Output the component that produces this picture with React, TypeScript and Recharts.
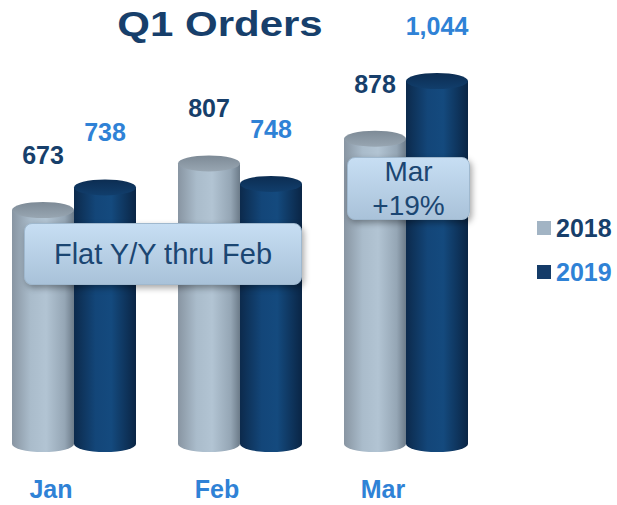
import React from 'react'
import { BarChart, Bar, XAxis, YAxis, LabelList } from 'recharts'

const months = ['Jan', 'Feb', 'Mar']
const orders2018 = [673, 807, 878]
const orders2019 = [738, 748, 1044]
const seriesNames = ['2018', '2019']
const notes = [
  { lines: ['Flat Y/Y thru Feb'], left: 24, top: 223, width: 278, height: 62 },
  { lines: ['Mar', '+19%'], left: 347, top: 157, width: 123, height: 63 }
]

const data = months.map((m, i) => ({ month: m, y2018: orders2018[i], y2019: orders2019[i] }))

const FONT = 'Arial, "Liberation Sans", sans-serif'
const NAVY = '#173f6b'
const BRIGHT = '#2f82d6'

function Cylinder(props: any) {
  const { x, y, width, height, gradId, topFill } = props
  if (height == null || height <= 0) return null
  const rx = width / 2
  const ry = 8
  const cx = x + rx
  return (
    <g>
      <ellipse cx={cx} cy={y + height} rx={rx} ry={ry} fill={`url(#${gradId})`} />
      <rect x={x} y={y} width={width} height={height} fill={`url(#${gradId})`} />
      <ellipse cx={cx} cy={y} rx={rx} ry={ry} fill={topFill} />
    </g>
  )
}

function valueLabel(color: string) {
  return (props: any) => {
    const { x, y, width, value } = props
    return (
      <text
        x={x + width / 2}
        y={y - 46}
        textAnchor="middle"
        fill={color}
        fontFamily={FONT}
        fontWeight="bold"
        fontSize={25}
      >
        {Number(value).toLocaleString('en-US')}
      </text>
    )
  }
}

function MonthTick(props: any) {
  const { x, y, payload } = props
  return (
    <text x={x - 23} y={y + 46} textAnchor="middle" fill={BRIGHT} fontFamily={FONT} fontWeight="bold" fontSize={25}>
      {payload.value}
    </text>
  )
}

function LegendBox() {
  const colors = [
    { sq: '#a2b4c4', txt: NAVY },
    { sq: '#143b68', txt: BRIGHT }
  ]
  return (
    <div style={{ position: 'absolute', left: 537, top: 206, fontFamily: FONT }}>
      {seriesNames.map((n, i) => (
        <div key={n} style={{ display: 'flex', alignItems: 'center', height: 44 }}>
          <div style={{ width: 14, height: 14, background: colors[i].sq, marginRight: 5 }} />
          <span style={{ fontSize: 25, fontWeight: 'bold', color: colors[i].txt }}>{n}</span>
        </div>
      ))}
    </div>
  )
}

export default function App() {
  return (
    <div style={{ position: 'absolute', left: 0, top: 0, width: 617, height: 505, background: '#fff' }}>
      <svg width={0} height={0} style={{ position: 'absolute' }}>
        <defs>
          <linearGradient id="g2018" x1="0" y1="0" x2="1" y2="0">
            <stop offset="0%" stopColor="#8895a2" />
            <stop offset="30%" stopColor="#aabccb" />
            <stop offset="55%" stopColor="#b2c4d3" />
            <stop offset="85%" stopColor="#95a6b5" />
            <stop offset="100%" stopColor="#6c7b89" />
          </linearGradient>
          <linearGradient id="t2018" x1="0" y1="0" x2="0" y2="1">
            <stop offset="0%" stopColor="#7d8a96" />
            <stop offset="100%" stopColor="#98a6b2" />
          </linearGradient>
          <linearGradient id="g2019" x1="0" y1="0" x2="1" y2="0">
            <stop offset="0%" stopColor="#0c2a4c" />
            <stop offset="35%" stopColor="#134679" />
            <stop offset="60%" stopColor="#144a7e" />
            <stop offset="100%" stopColor="#0a2545" />
          </linearGradient>
          <linearGradient id="t2019" x1="0" y1="0" x2="0" y2="1">
            <stop offset="0%" stopColor="#0c2d52" />
            <stop offset="100%" stopColor="#113e6c" />
          </linearGradient>
        </defs>
      </svg>
      <div
        style={{
          position: 'absolute',
          left: 0,
          width: 440,
          top: 3,
          textAlign: 'center',
          fontFamily: FONT,
          fontWeight: 'bold',
          fontSize: 35,
          lineHeight: '42px',
          color: '#173f6b',
          transform: 'scaleX(1.2)',
          transformOrigin: '220px 0'
        }}
      >
        Q1 Orders
      </div>
      <BarChart
        width={617}
        height={505}
        data={data}
        margin={{ top: 81, right: 128, left: -9, bottom: 0 }}
        barSize={62}
        barGap={0}
      >
        <XAxis dataKey="month" axisLine={false} tickLine={false} height={61} tick={<MonthTick />} interval={0} />
        <YAxis hide domain={[0, 1044]} />
        <Bar
          dataKey="y2018"
          name={seriesNames[0]}
          fill="#a2b4c4"
          isAnimationActive={false}
          shape={(p: any) => <Cylinder {...p} gradId="g2018" topFill="url(#t2018)" />}
        >
          <LabelList dataKey="y2018" content={valueLabel(NAVY)} />
        </Bar>
        <Bar
          dataKey="y2019"
          name={seriesNames[1]}
          fill="#143b68"
          isAnimationActive={false}
          shape={(p: any) => <Cylinder {...p} gradId="g2019" topFill="url(#t2019)" />}
        >
          <LabelList dataKey="y2019" content={valueLabel(BRIGHT)} />
        </Bar>
      </BarChart>
      <LegendBox />
      {notes.map((n, i) => (
        <div
          key={i}
          style={{
            position: 'absolute',
            left: n.left,
            top: n.top,
            width: n.width,
            height: n.height,
            boxSizing: 'border-box',
            borderRadius: 8,
            border: '1px solid #9fb8ce',
            background: 'linear-gradient(#c7def3, #a9c2d9)',
            boxShadow: '2px 3px 6px rgba(0,0,0,0.35)',
            display: 'flex',
            flexDirection: 'column',
            justifyContent: 'center',
            alignItems: 'center',
            fontFamily: FONT,
            fontSize: n.lines.length > 1 ? 28 : 29,
            lineHeight: n.lines.length > 1 ? '34px' : '32px',
            color: '#1b4672'
          }}
        >
          {n.lines.map((l) => (
            <div key={l}>{l}</div>
          ))}
        </div>
      ))}
    </div>
  )
}
